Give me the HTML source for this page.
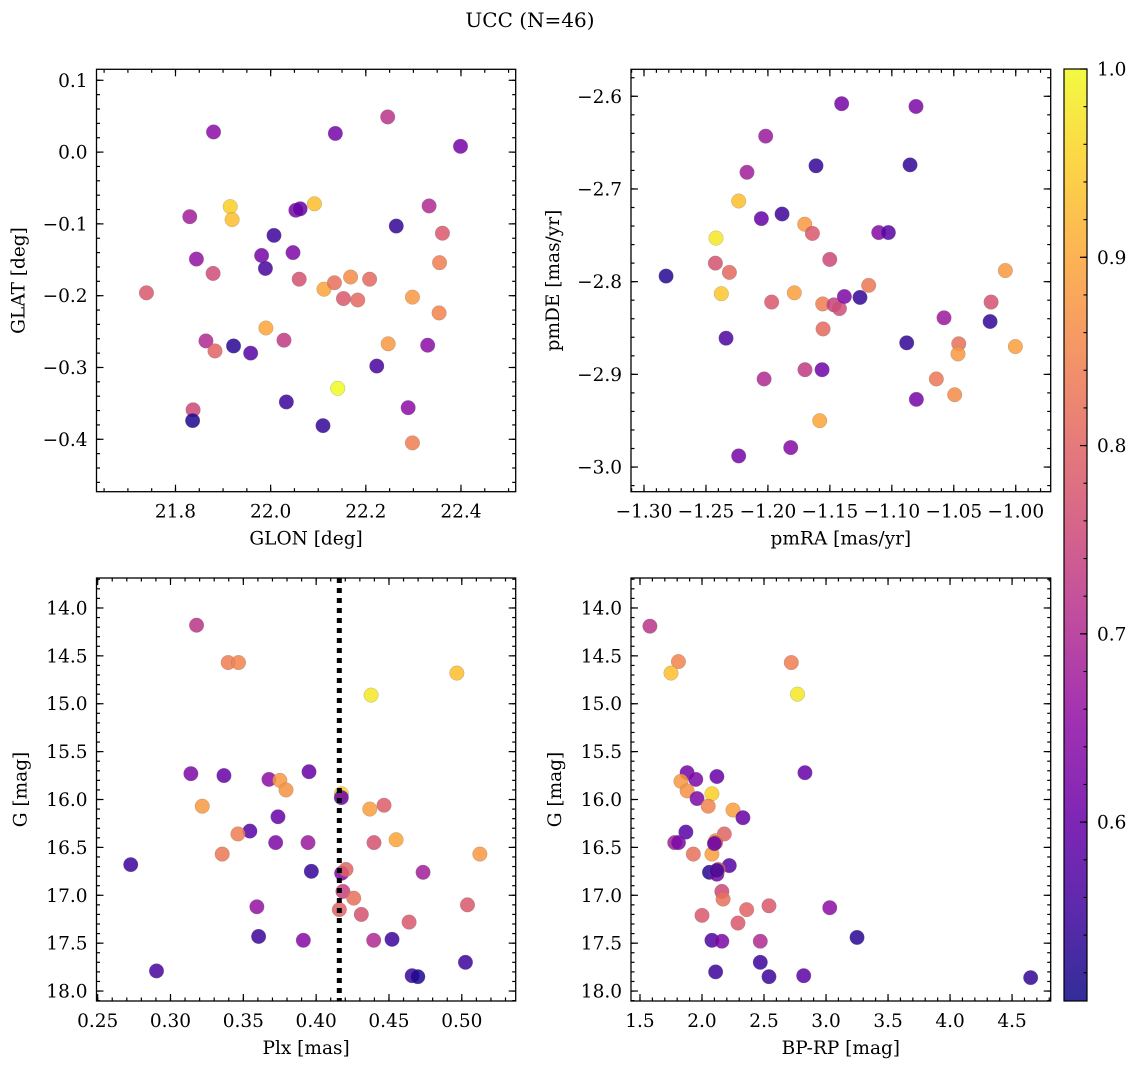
<!DOCTYPE html>
<html><head><meta charset="utf-8"><style>
html,body{margin:0;padding:0;background:#fff;}
svg{display:block;font-family:"DejaVu Serif","Liberation Serif",serif;}
</style></head><body>
<svg id="fig" width="1136" height="1068" viewBox="0 0 1136 1068" xmlns="http://www.w3.org/2000/svg">
<text x="530" y="27" font-size="20" text-anchor="middle">UCC (N=46)</text>
</svg>
<script>
// Panel 1: GLON vs GLAT
const glon=[21.739,21.880,21.830,21.844,21.879,21.915,21.919,21.864,21.883,21.922,21.958,21.837,21.836,21.990,21.981,21.989,22.007,22.047,22.053,22.062,22.060,22.028,22.033,22.092,22.112,22.134,22.136,22.141,22.110,22.153,22.168,22.183,22.208,22.246,22.247,22.223,22.264,22.298,22.289,22.298,22.333,22.330,22.361,22.355,22.354,22.399];
const glat=[-0.196,0.028,-0.090,-0.149,-0.169,-0.076,-0.094,-0.263,-0.277,-0.270,-0.280,-0.359,-0.374,-0.245,-0.144,-0.162,-0.116,-0.140,-0.081,-0.079,-0.177,-0.262,-0.348,-0.072,-0.191,-0.182,0.026,-0.329,-0.381,-0.204,-0.174,-0.206,-0.177,0.049,-0.267,-0.298,-0.103,-0.202,-0.356,-0.405,-0.075,-0.269,-0.113,-0.154,-0.224,0.008];
const probA=[0.78,0.65,0.68,0.66,0.76,0.95,0.93,0.70,0.80,0.53,0.58,0.75,0.52,0.90,0.62,0.56,0.55,0.63,0.62,0.60,0.77,0.73,0.55,0.93,0.90,0.82,0.62,1.00,0.54,0.78,0.86,0.81,0.81,0.72,0.88,0.56,0.54,0.88,0.65,0.84,0.70,0.65,0.78,0.84,0.85,0.62];
// Panel 2: pmRA vs pmDE
const pmra=[-1.1405,-1.0805,-1.2018,-1.1612,-1.0853,-1.2169,-1.2236,-1.2053,-1.1886,-1.1703,-1.1641,-1.1106,-1.1028,-1.2419,-1.2424,-1.2311,-1.2822,-1.1501,-1.0084,-1.2376,-1.1787,-1.1970,-1.1558,-1.1467,-1.1423,-1.1383,-1.1257,-1.1187,-1.0199,-1.0579,-1.0207,-1.2338,-1.1555,-1.0880,-1.0460,-1.0466,-1.0003,-1.1701,-1.1563,-1.2031,-1.0641,-1.0493,-1.0802,-1.1582,-1.1816,-1.2236];
const pmde=[-2.608,-2.611,-2.643,-2.675,-2.674,-2.682,-2.713,-2.732,-2.727,-2.738,-2.748,-2.747,-2.747,-2.753,-2.780,-2.790,-2.794,-2.776,-2.788,-2.813,-2.812,-2.822,-2.824,-2.825,-2.829,-2.816,-2.817,-2.804,-2.822,-2.839,-2.843,-2.861,-2.851,-2.866,-2.867,-2.878,-2.870,-2.895,-2.895,-2.905,-2.905,-2.922,-2.927,-2.950,-2.979,-2.988];
const probB=[0.62,0.63,0.67,0.54,0.54,0.68,0.93,0.60,0.55,0.88,0.78,0.64,0.58,0.98,0.77,0.81,0.53,0.75,0.88,0.94,0.89,0.78,0.84,0.74,0.76,0.63,0.54,0.83,0.77,0.67,0.54,0.57,0.81,0.54,0.82,0.88,0.89,0.73,0.61,0.70,0.83,0.86,0.62,0.90,0.64,0.62];
// Panel 3: Plx vs G
const plx=[0.3179,0.3396,0.3467,0.4966,0.4377,0.3140,0.3367,0.3676,0.3751,0.3793,0.3951,0.4173,0.4173,0.3218,0.4368,0.4466,0.3738,0.3545,0.3463,0.3722,0.3944,0.4397,0.4549,0.3355,0.5124,0.2727,0.3967,0.4175,0.4205,0.4734,0.4184,0.4258,0.4159,0.3593,0.4310,0.5039,0.4638,0.3605,0.3912,0.4395,0.4521,0.5025,0.2904,0.4659,0.4698];
const gmag3=[14.18,14.57,14.57,14.68,14.91,15.73,15.75,15.79,15.80,15.90,15.71,15.94,15.98,16.07,16.10,16.06,16.18,16.33,16.36,16.45,16.45,16.45,16.42,16.57,16.57,16.68,16.75,16.77,16.73,16.76,16.96,17.03,17.15,17.12,17.20,17.10,17.28,17.43,17.47,17.47,17.46,17.70,17.79,17.84,17.85];
const probC=[0.72,0.84,0.85,0.93,0.98,0.63,0.60,0.65,0.88,0.87,0.60,0.95,0.60,0.88,0.89,0.79,0.60,0.58,0.84,0.63,0.67,0.77,0.90,0.83,0.88,0.55,0.54,0.63,0.80,0.68,0.74,0.82,0.80,0.66,0.77,0.78,0.78,0.55,0.64,0.70,0.55,0.55,0.56,0.55,0.52];
const plxLine=[0.4159];
// Panel 4: BP-RP vs G
const bprp=[1.58,1.81,1.75,2.72,2.77,2.83,1.88,2.12,1.95,1.83,1.88,2.08,1.96,2.05,2.25,2.33,1.87,2.18,1.78,1.81,2.11,2.11,1.93,2.08,2.22,2.06,2.12,2.13,2.16,2.17,2.54,3.03,2.36,2.00,2.29,3.25,2.08,2.16,2.47,2.47,2.11,2.54,2.82,4.65,2.12,2.10];
const gmag4=[14.19,14.56,14.68,14.57,14.90,15.72,15.72,15.76,15.79,15.81,15.91,15.94,15.99,16.07,16.11,16.19,16.34,16.36,16.45,16.45,16.43,16.45,16.57,16.57,16.69,16.76,16.78,16.73,16.96,17.04,17.11,17.13,17.15,17.21,17.29,17.44,17.47,17.48,17.48,17.70,17.80,17.85,17.84,17.86,16.74,16.46];
const probD=[0.72,0.85,0.93,0.84,0.98,0.60,0.62,0.60,0.63,0.88,0.87,0.95,0.63,0.85,0.89,0.60,0.58,0.80,0.68,0.63,0.88,0.80,0.82,0.89,0.58,0.53,0.62,0.79,0.75,0.82,0.78,0.65,0.80,0.78,0.78,0.53,0.57,0.63,0.70,0.55,0.55,0.55,0.59,0.54,0.55,0.60];
// Colorbar
const cbTicks=[0.6,0.7,0.8,0.9,1.0];
const cbMin=0.505, cbMax=1.0;

const NS="http://www.w3.org/2000/svg";
const svg=document.getElementById('fig');
function mk(tag,attrs,parent){const e=document.createElementNS(NS,tag);for(const k in attrs)e.setAttribute(k,attrs[k]);(parent||svg).appendChild(e);return e;}
const stops=[[0,[13,8,135]],[0.1,[65,4,157]],[0.2,[106,0,168]],[0.3,[143,13,164]],[0.4,[177,42,144]],[0.5,[204,71,120]],[0.6,[225,100,98]],[0.7,[242,132,75]],[0.8,[252,166,54]],[0.9,[252,206,37]],[1,[240,249,33]]];
function plasma(t){t=Math.max(0,Math.min(1,t));for(let i=0;i<stops.length-1;i++){const a=stops[i],b=stops[i+1];if(t<=b[0]){const f=(t-a[0])/(b[0]-a[0]);const c=a[1].map((v,j)=>Math.round(v+(b[1][j]-v)*f));return `rgb(${c[0]},${c[1]},${c[2]})`;}}return 'rgb(240,249,33)';}
function colorOf(p){return plasma((p-cbMin)/(cbMax-cbMin));}
function fmt(v,d){let s=v.toFixed(d);if(s.startsWith('-'))s='\u2212'+s.slice(1);if(s==='\u22120.0')s='0.0';return s;}
const TFS=18.5, LFS=18.5;

function panel(cfg){
  const {L,R,T,B,xmin,xmax,ymin,ymax,invY,name}=cfg;
  const sx=v=>L+(v-xmin)/(xmax-xmin)*(R-L);
  const sy=invY?(v=>T+(v-ymin)/(ymax-ymin)*(B-T)):(v=>B-(v-ymin)/(ymax-ymin)*(B-T));
  const g=mk('g',{});
  
  
  const eps=1e-9;
  function ticksX(step,len,maj){const s=Math.ceil((xmin-eps)/step);for(let i=s;i*step<=xmax+eps;i++){const v=i*step,x=sx(v);mk('line',{x1:x,x2:x,y1:B,y2:B-len,stroke:'#000','stroke-width':1.2},g);mk('line',{x1:x,x2:x,y1:T,y2:T+len,stroke:'#000','stroke-width':1.2},g);
    if(maj){const t=mk('text',{x:x,y:B+26,'font-size':TFS,'text-anchor':'middle'},g);t.textContent=fmt(v,cfg.xd);}}}
  function ticksY(step,len,maj){const lo=Math.min(ymin,ymax),hi=Math.max(ymin,ymax);const s=Math.ceil((lo-eps)/step);for(let i=s;i*step<=hi+eps;i++){const v=i*step,y=sy(v);mk('line',{x1:L,x2:L+len,y1:y,y2:y,stroke:'#000','stroke-width':1.2},g);mk('line',{x1:R,x2:R-len,y1:y,y2:y,stroke:'#000','stroke-width':1.2},g);
    if(maj){const t=mk('text',{x:L-9,y:y+6.5,'font-size':TFS,'text-anchor':'end'},g);t.textContent=fmt(v,cfg.yd);}}}
  ticksX(cfg.xminor,3.5,false);ticksX(cfg.xmajor,7,true);
  ticksY(cfg.yminor,3.5,false);ticksY(cfg.ymajor,7,true);
  const pts=mk('g',{},g);
  
  
  const xs=cfg.xs,ys=cfg.ys,ps=cfg.ps;
  for(let i=0;i<xs.length;i++){
    const c=mk('circle',{cx:sx(xs[i]),cy:sy(ys[i]),r:7.3,fill:colorOf(ps[i]),'fill-opacity':0.85,stroke:'#777','stroke-width':0.4,'stroke-opacity':0.6},pts);
    
    
  }
  if(cfg.vline){for(const v of cfg.vline){const l=mk('line',{x1:sx(v),x2:sx(v),y1:T,y2:B,stroke:'#000','stroke-width':5,'stroke-dasharray':'5,5'},g);
    
    }}
  const fr=mk('rect',{x:L,y:T,width:R-L,height:B-T,fill:'none',stroke:'#000','stroke-width':1.3},g);
  
  
  const xl=mk('text',{x:(L+R)/2,y:B+53,'font-size':LFS,'text-anchor':'middle'},g);xl.textContent=cfg.xlabel;
  
  
  const yx=L-cfg.ylOff,yy=(T+B)/2;
  const yl=mk('text',{x:yx,y:yy,'font-size':LFS,'text-anchor':'middle',transform:`rotate(-90 ${yx} ${yy})`},g);yl.textContent=cfg.ylabel;
  
  
}
panel({name:'panel-glon-glat',L:96.5,R:515.7,T:69.3,B:491.7,xmin:21.634,xmax:22.515,ymin:-0.473,ymax:0.1153,xmajor:0.2,xminor:0.05,ymajor:0.1,yminor:0.02,xd:1,yd:1,xs:glon,ys:glat,ps:probA,xlabel:'GLON [deg]',ylabel:'GLAT [deg]',ylOff:72});
panel({name:'panel-pm',L:631,R:1050.7,T:69.3,B:491.7,xmin:-1.3105,xmax:-0.9718,ymin:-3.0266,ymax:-2.5709,xmajor:0.05,xminor:0.01,ymajor:0.1,yminor:0.02,xd:2,yd:1,xs:pmra,ys:pmde,ps:probB,xlabel:'pmRA [mas/yr]',ylabel:'pmDE [mas/yr]',ylOff:72});
panel({name:'panel-plx-g',L:96.5,R:515.7,T:578,B:1001,xmin:0.2492,xmax:0.537,ymin:13.687,ymax:18.104,invY:true,xmajor:0.05,xminor:0.01,ymajor:0.5,yminor:0.1,xd:2,yd:1,xs:plx,ys:gmag3,ps:probC,vline:plxLine,xlabel:'Plx [mas]',ylabel:'G [mag]',ylOff:70});
panel({name:'panel-cmd',L:631,R:1050.7,T:578,B:1001,xmin:1.4275,xmax:4.8116,ymin:13.687,ymax:18.104,invY:true,xmajor:0.5,xminor:0.1,ymajor:0.5,yminor:0.1,xd:1,yd:1,xs:bprp,ys:gmag4,ps:probD,xlabel:'BP-RP [mag]',ylabel:'G [mag]',ylOff:70});

(function(){
  const X=1064,W=23,T=69,B=1001;
  const g=mk('g',{});
  
  
  const defs=mk('defs',{},g);
  const lg=mk('linearGradient',{id:'cbg',x1:0,y1:1,x2:0,y2:0},defs);
  for(let i=0;i<=20;i++){mk('stop',{offset:i/20,'stop-color':plasma(i/20),'stop-opacity':0.85},lg);}
  mk('rect',{x:X,y:T,width:W,height:B-T,fill:'url(#cbg)',stroke:'#000','stroke-width':1.2},g);
  const sy=v=>B-(v-cbMin)/(cbMax-cbMin)*(B-T);
  for(let v=0.52;v<=1.0001;v+=0.02){const y=sy(v);mk('line',{x1:X+W,x2:X+W-3.5,y1:y,y2:y,stroke:'#000','stroke-width':1.1},g);}
  for(const v of cbTicks){const y=sy(v);mk('line',{x1:X+W,x2:X+W-7,y1:y,y2:y,stroke:'#000','stroke-width':1.2},g);
    const t=mk('text',{x:X+W+10,y:y+6.5,'font-size':TFS},g);t.textContent=v.toFixed(1);
    
    }
})();
</script>
</body></html>
